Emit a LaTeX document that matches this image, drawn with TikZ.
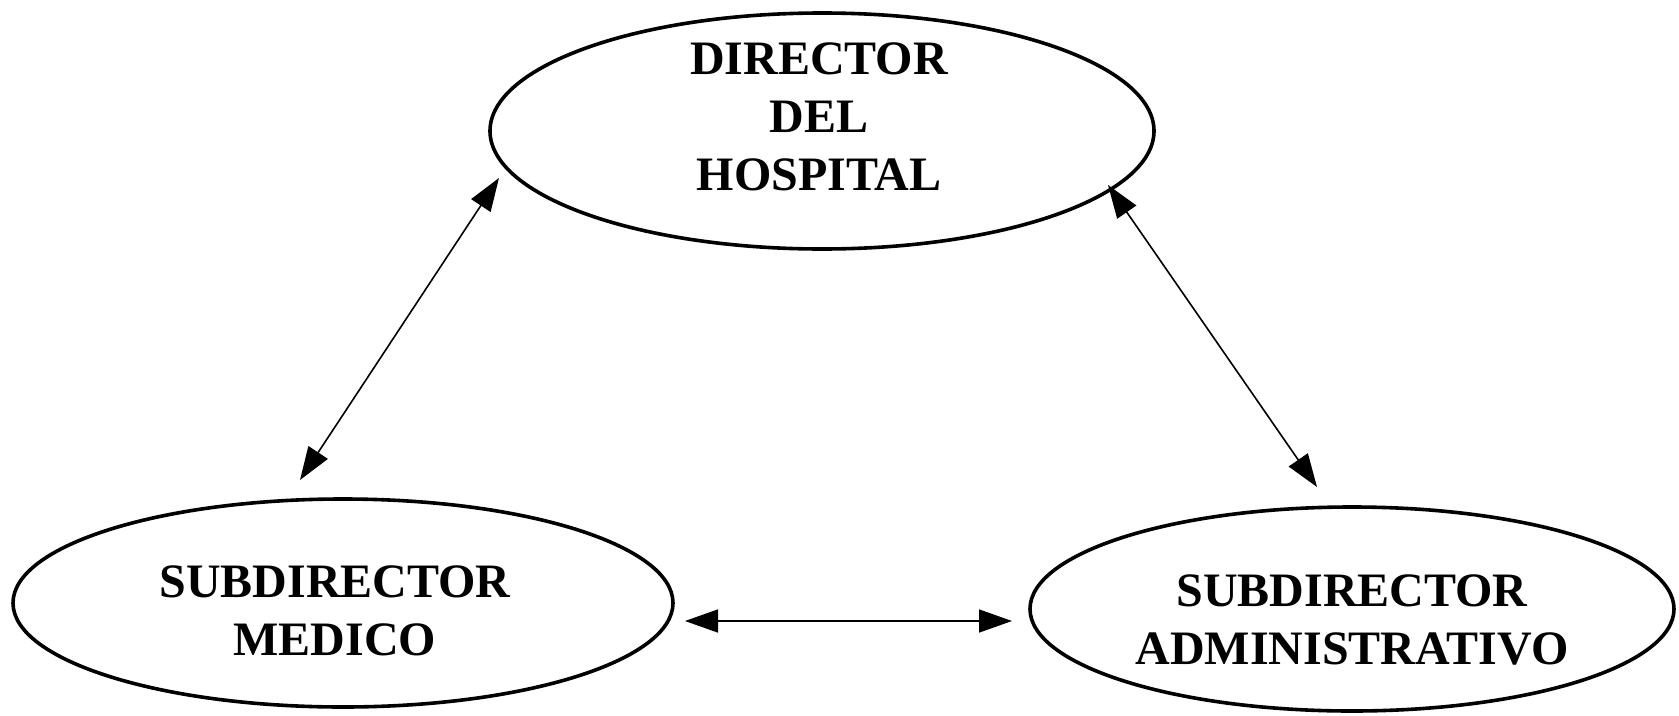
\documentclass[tikz,border=0pt]{standalone}
\usepackage{fontspec}
\setmainfont{Liberation Serif}
\usetikzlibrary{shapes.geometric,arrows.meta}
\begin{document}
\begin{tikzpicture}[x=1pt,y=-1pt,
  oval/.style={ellipse,draw,line width=3.6pt,inner sep=0pt},
  label/.style={align=center,font=\fontsize{48}{58}\selectfont\bfseries,inner sep=0pt},
  link/.style={line width=1.6pt,{Triangle[length=33pt,width=23pt]}-{Triangle[length=33pt,width=23pt]}}]
\useasboundingbox (0,0) rectangle (1679,715);
% the three posts
\node[oval,minimum width=664pt,minimum height=236pt] (dir) at (822,131) {};
\node[oval,minimum width=660pt,minimum height=208pt] (med) at (343,603) {};
\node[oval,minimum width=644pt,minimum height=204pt] (adm) at (1352,609) {};
\node[label] (dirtxt) at (819,117) {DIRECTOR\\DEL\\HOSPITAL};
\node[label] (medtxt) at (335,611) {SUBDIRECTOR\\MEDICO};
\node[label] (admtxt) at (1352,620) {SUBDIRECTOR\\ADMINISTRATIVO};
% arrow ends
\coordinate (d1) at (499,178);
\coordinate (m1) at (300,480);
\coordinate (d2) at (1108,185);
\coordinate (a1) at (1317,487);
\coordinate (m2) at (685,621);
\coordinate (a2) at (1012,621);
\draw[link] (d1) -- (m1);
\draw[link] (d2) -- (a1);
\draw[link] (m2) -- (a2);
\end{tikzpicture}
\end{document}
